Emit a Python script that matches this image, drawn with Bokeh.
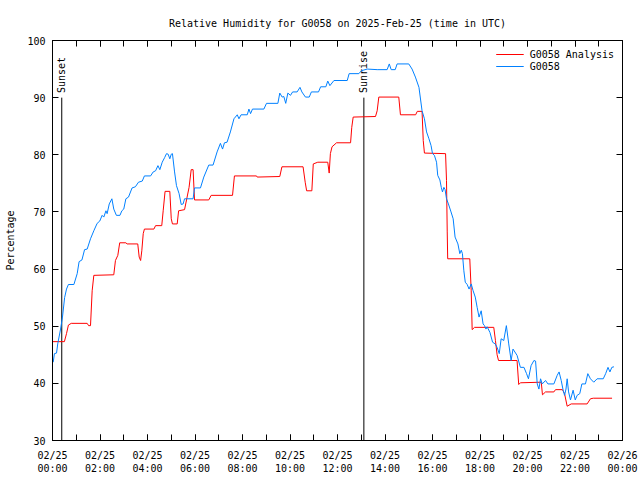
import math
from bokeh.plotting import figure
from bokeh.models import FixedTicker, LinearAxis, Legend, LegendItem, Range1d, CustomLabelingPolicy
from bokeh.core.properties import value
from bokeh.embed import file_html
from bokeh.resources import INLINE

# ---------------- data (hours since 2025-02-25 00:00 UTC) ----------------
analysis_hours = [0.0, 0.5, 0.59, 0.67, 0.79, 1.46, 1.52, 1.6, 1.67, 1.74, 2.58, 2.65, 2.75, 2.83,
                  3.09, 3.14, 3.59, 3.65, 3.71, 3.76, 3.82, 3.87, 4.27, 4.34, 4.6, 4.66, 4.74, 4.94,
                  5.0, 5.05, 5.25, 5.31, 5.56, 5.75, 5.84, 5.92, 5.98, 6.58, 6.68, 7.58, 7.66, 8.59,
                  8.62, 9.57, 9.66, 10.55, 10.64, 10.70, 10.92, 10.98, 11.17, 11.59, 11.65, 11.70,
                  11.77, 11.96, 12.55, 12.60, 12.66, 13.60, 13.67, 13.74, 14.58, 14.65, 15.29, 15.36,
                  15.56, 15.61, 15.66, 16.55, 16.59, 16.62, 16.64, 17.57, 17.63, 17.67, 17.77, 18.58,
                  18.65, 18.72, 18.78, 19.56, 19.63, 19.70, 20.58, 20.63, 20.76, 21.11, 21.18, 21.47,
                  21.56, 21.67, 21.84, 22.51, 22.65, 22.77, 23.56]
analysis_rh = [47.3, 47.3, 48.7, 50.2, 50.5, 50.5, 50.1, 50.1, 56.2, 58.9, 59.0, 61.5, 62.4, 64.6,
               64.6, 64.4, 64.4, 62.1, 61.5, 63.2, 66.2, 67.0, 67.0, 67.6, 67.6, 70.2, 73.6, 73.6,
               68.8, 67.9, 67.9, 70.2, 70.4, 74.3, 77.4, 77.4, 72.1, 72.1, 72.9, 72.9, 76.3, 76.3,
               76.1, 76.2, 77.9, 77.9, 75.2, 73.7, 73.7, 78.4, 78.7, 78.7, 76.8, 80.2,
               81.4, 82.1, 82.1, 84.8, 86.6, 86.7, 87.7, 90.1, 90.1, 87.0, 87.0, 87.6,
               87.6, 82.5, 80.3, 80.2, 75.5, 66.5, 61.8, 61.8, 56.2, 49.4, 49.8, 49.8,
               47.5, 45.0, 44.0, 44.0, 39.8, 40.1, 40.2, 38.0, 38.5, 38.5, 38.9, 38.9,
               38.2, 36.0, 36.4, 36.4, 37.3, 37.4, 37.4]

obs_hours = [0.03, 0.08, 0.17, 0.22, 0.34, 0.42, 0.51, 0.59, 0.67, 0.9, 1.04, 1.12, 1.24, 1.35, 1.46,
             1.6, 1.74, 1.88, 1.99, 2.09, 2.16, 2.25, 2.30, 2.39, 2.5, 2.58, 2.69, 2.84, 2.92, 3.0,
             3.09, 3.2, 3.35, 3.49, 3.62, 3.78, 3.87, 4.13, 4.24, 4.34, 4.44, 4.52, 4.62, 4.72, 4.8,
             4.87, 4.94, 5.0, 5.05, 5.14, 5.22, 5.33, 5.42, 5.5, 5.56, 5.92, 5.98, 6.23, 6.37, 6.58,
             6.76, 6.93, 7.07, 7.16, 7.24, 7.35, 7.49, 7.64, 7.78, 7.85, 7.94, 8.2, 8.27, 8.34, 8.42,
             8.9, 9.01, 9.49, 9.57, 9.67, 9.74, 9.82, 9.91, 10.02, 10.11, 10.3, 10.42, 10.5, 10.65,
             10.81, 10.9, 11.2, 11.29, 11.51, 11.59, 11.68, 11.85, 12.41, 12.49, 12.9, 13.0, 13.25,
             13.67, 14.09, 14.18, 14.26, 14.43, 14.51, 15.0, 15.14, 15.28, 15.43, 15.56, 15.66,
             15.75, 15.85, 15.94, 16.0, 16.08, 16.17, 16.22, 16.31, 16.37, 16.42, 16.48, 16.53,
             16.59, 16.67, 16.78, 16.87, 16.95, 17.07, 17.15, 17.21, 17.26, 17.32, 17.38, 17.46,
             17.54, 17.63, 17.71, 17.8, 17.88, 17.96, 18.05, 18.13, 18.19, 18.25, 18.3, 18.42,
             18.53, 18.64, 18.72, 18.81, 18.89, 19.0, 19.11, 19.21, 19.31, 19.39, 19.56, 19.7,
             19.85, 19.96, 20.04, 20.15, 20.27, 20.34, 20.41, 20.48, 20.55, 20.62, 20.76, 20.86,
             21.11, 21.25, 21.33, 21.42, 21.5, 21.56, 21.62, 21.67, 21.73, 21.81, 21.92, 22.01,
             22.09, 22.2, 22.29, 22.44, 22.54, 22.65, 22.79, 22.93, 23.19, 23.29, 23.39, 23.47,
             23.55, 23.64]
obs_rh = [43.7, 45.2, 45.3, 46.9, 49.5, 51.6, 55.0, 56.5, 57.3, 57.3, 59.2, 61.3, 61.6, 63.4, 63.5,
          65.3, 66.7, 68.0, 68.4, 69.4, 69.1, 70.2, 69.7, 71.4, 72.3, 70.5, 69.4, 69.4, 70.2, 70.5,
          72.3, 72.6, 74.2, 74.4, 75.2, 75.4, 76.3, 76.3, 77.0, 77.2, 78.1, 77.4, 78.7, 79.5, 80.2,
          80.1, 79.3, 80.1, 80.2, 77.0, 74.6, 73.2, 71.3, 71.4, 72.3, 72.3, 74.2, 74.2, 76.1, 78.2,
          78.2, 80.5, 82.0, 81.0, 82.1, 82.2, 84.0, 86.3, 87.0, 86.3, 87.0, 87.0, 88.0, 87.2, 88.0,
          88.0, 89.0, 89.0, 90.8, 90.1, 90.2, 89.0, 90.8, 90.4, 91.0, 91.0, 91.8, 91.0, 90.1,
          90.1, 91.0, 91.0, 91.9, 91.9, 92.9, 92.1, 93.0, 93.0, 94.2, 94.2, 94.7, 95.0,
          94.9, 94.9, 95.9, 94.9, 94.9, 95.9, 95.9, 95.0, 93.6, 91.8, 87.7, 86.3,
          84.0, 82.8, 81.6, 80.2, 79.9, 78.7, 76.4, 75.6, 74.3, 73.5, 74.3, 73.9,
          72.3, 71.4, 70.0, 68.8, 65.6, 64.4, 62.7, 63.3, 62.7, 59.7, 57.7, 57.3,
          56.5, 57.4, 56.2, 55.1, 53.3, 51.6, 52.7, 50.4, 50.1, 49.5, 49.9, 48.9,
          47.2, 46.9, 46.3, 45.2, 47.8, 47.5, 50.1, 46.9, 44.0, 46.0, 44.9, 42.8,
          42.8, 41.7, 40.8, 43.1, 44.0, 43.9, 39.9, 39.0, 40.8, 39.9, 40.5, 39.9,
          39.9, 41.4, 42.0, 40.5, 38.8, 37.9, 39.0, 40.8, 38.5, 37.1, 38.8, 37.1,
          37.9, 38.2, 39.9, 39.9, 41.7, 40.8, 40.2, 40.8, 40.8, 41.7, 42.8, 42.0,
          42.8, 42.9]

event_hours = [0.39, 13.11]
event_names = ["Sunset", "Sunrise"]
event_top = [90.0, 90.0]
event_bottom = [30.0, 30.0]
event_label_y = [90.8, 90.8]

x_tick_hours = list(range(0, 25, 2))
x_minor_hours = list(range(0, 25))
x_tick_labels = ["02/25\n00:00", "02/25\n02:00", "02/25\n04:00", "02/25\n06:00", "02/25\n08:00",
                 "02/25\n10:00", "02/25\n12:00", "02/25\n14:00", "02/25\n16:00", "02/25\n18:00",
                 "02/25\n20:00", "02/25\n22:00", "02/26\n00:00"]
y_ticks = [30, 40, 50, 60, 70, 80, 90, 100]

title_text = "Relative Humidity for G0058 on 2025-Feb-25 (time in UTC)"
analysis_name = "G0058 Analysis"
obs_name = "G0058"

# ---------------- styles ----------------
FONT = "DejaVu Sans Mono"
FS = "10px"
RED = "#ff0000"
BLUE = "#0080ff"

p = figure(width=640, height=480, output_backend="svg", toolbar_location=None,
           x_range=Range1d(0, 24), y_range=Range1d(30, 100),
           min_border_left=52, min_border_right=18, min_border_top=40, min_border_bottom=40,
           title=title_text)
p.background_fill_color = "white"
p.border_fill_color = "white"
p.outline_line_color = "black"
p.outline_line_width = 1
p.grid.visible = False

p.title.text_font = FONT
p.title.text_font_size = FS
p.title.text_font_style = "normal"
p.title.text_color = "black"
p.title.align = "center"
p.title.standoff = 24

x_ticker = FixedTicker(ticks=x_tick_hours, minor_ticks=x_minor_hours)
y_ticker = FixedTicker(ticks=y_ticks, minor_ticks=[])

def style_axis(ax, fs=FS):
    ax.axis_line_color = "black"
    ax.major_tick_in = 6
    ax.major_tick_out = 0
    ax.minor_tick_in = 6
    ax.minor_tick_out = 0
    ax.major_tick_line_color = "black"
    ax.minor_tick_line_color = "black"
    ax.major_label_text_font = FONT
    ax.major_label_text_font_size = fs
    ax.major_label_text_color = "black"
    ax.axis_label_text_font = FONT
    ax.axis_label_text_font_size = FS
    ax.axis_label_text_font_style = "normal"
    ax.axis_label_text_color = "black"

xa = p.xaxis[0]
xa.ticker = x_ticker
xa.major_label_overrides = {h: lab for h, lab in zip(x_tick_hours, x_tick_labels)}
style_axis(xa)
xa.major_label_standoff = 9

ya = p.yaxis[0]
ya.ticker = y_ticker
style_axis(ya)
ya.major_label_standoff = 7
ya.axis_label = "Percentage"
ya.axis_label_standoff = 8

# mirrored tick marks on top and right (no labels)
top_ax = LinearAxis(ticker=x_ticker, major_label_policy=CustomLabelingPolicy(code="return new Set()"))
style_axis(top_ax, fs="0px")
top_ax.major_label_standoff = 0
p.add_layout(top_ax, "above")

right_ax = LinearAxis(ticker=y_ticker, major_label_policy=CustomLabelingPolicy(code="return new Set()"))
style_axis(right_ax, fs="0px")
right_ax.major_label_standoff = 0
p.add_layout(right_ax, "right")

# sunset / sunrise markers
p.segment(x0=event_hours, y0=event_bottom, x1=event_hours, y1=event_top, line_color="black", line_width=1)
p.text(x=event_hours, y=event_label_y, text=event_names, angle=math.pi / 2,
       text_align="left", text_baseline="middle",
       text_font=value(FONT), text_font_size=FS, text_color="black")

r_an = p.line(analysis_hours, analysis_rh, line_color=RED, line_width=1)
r_ob = p.line(obs_hours, obs_rh, line_color=BLUE, line_width=1)

legend = Legend(items=[LegendItem(label=analysis_name, renderers=[r_an]),
                       LegendItem(label=obs_name, renderers=[r_ob])],
                location="top_right")
legend.background_fill_alpha = 0
legend.border_line_color = None
legend.label_text_font = FONT
legend.label_text_font_size = FS
legend.label_text_color = "black"
legend.glyph_width = 28
legend.glyph_height = 12
legend.label_height = 12
legend.label_standoff = 6
legend.spacing = 0
legend.padding = 2
legend.margin = 8
p.add_layout(legend)

open("out.html", "w").write(file_html(p, INLINE))
